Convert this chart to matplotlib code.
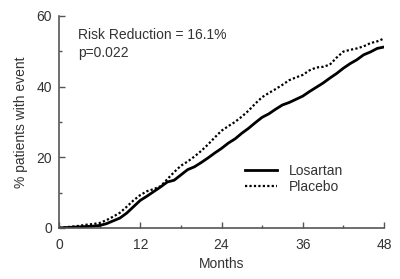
import numpy as np
import matplotlib
matplotlib.use("Agg")
import matplotlib.pyplot as plt
from matplotlib.ticker import MultipleLocator

plt.rcParams["font.family"] = ["Liberation Sans", "DejaVu Sans"]

# months and cumulative % patients with event
months = list(range(0, 49))
losartan = [0, 0.1, 0.2, 0.3, 0.4, 0.5, 0.7, 1.2, 2.0, 2.8,
            4.2, 6.0, 7.8, 9.0, 10.3, 11.6, 13.0, 13.5, 15.0, 16.5,
            17.3, 18.5, 19.8, 21.2, 22.5, 24.0, 25.2, 26.8, 28.2, 29.8,
            31.3, 32.3, 33.6, 34.8, 35.5, 36.4, 37.3, 38.6, 39.8, 41.0,
            42.4, 43.7, 45.2, 46.5, 47.6, 49.0, 49.8, 50.8, 51.2]
placebo = [0, 0.2, 0.4, 0.6, 0.9, 1.1, 1.4, 2.2, 3.2, 4.3,
           6.0, 7.8, 9.3, 10.4, 11.0, 11.8, 13.8, 15.8, 17.6, 18.8,
           20.2, 21.8, 23.6, 25.6, 27.5, 28.8, 30.0, 31.5, 33.2, 35.2,
           37.0, 38.2, 39.3, 40.5, 41.8, 42.6, 43.3, 44.6, 45.4, 45.6,
           46.2, 48.2, 49.9, 50.4, 50.8, 51.4, 52.3, 52.8, 53.6]
x_ticks = [0, 12, 24, 36, 48]
y_ticks = [0, 20, 40, 60]

grey = "#555555"
txt = "#333333"

fig = plt.figure(figsize=(4.0, 2.79), dpi=100)
ax = fig.add_axes([0.1475, 0.183, 0.8125, 0.76])

ax.plot(months, losartan, color="black", lw=2.0, label="Losartan")
ax.plot(months, placebo, color="black", lw=1.6, ls=(0, (1, 1)), label="Placebo")

ax.set_xlim(0, 48)
ax.set_ylim(0, 60)
ax.set_xticks(x_ticks)
ax.set_yticks(y_ticks)
ax.xaxis.set_minor_locator(MultipleLocator(6))
ax.yaxis.set_minor_locator(MultipleLocator(10))
ax.tick_params(which="major", direction="in", length=4, width=1, color=grey,
               labelsize=10, labelcolor=txt)
ax.tick_params(axis="x", which="major", pad=7)
ax.tick_params(axis="y", which="major", pad=5)
ax.tick_params(which="minor", direction="in", length=2, width=1, color=grey)

for s in ["top", "right"]:
    ax.spines[s].set_visible(False)
for s in ["left", "bottom"]:
    ax.spines[s].set_color(grey)
    ax.spines[s].set_linewidth(1.2)

ax.set_xlabel("Months", fontsize=10, color=txt, labelpad=4)
ax.set_ylabel("% patients with event", fontsize=10, color=txt, labelpad=6)

ax.text(2.8, 54.6, "Risk Reduction = 16.1%", fontsize=10, color=txt, va="center")
ax.text(2.8, 49.5, "p=0.022", fontsize=10, color=txt, va="center")

ax.legend(loc="upper left", bbox_to_anchor=(0.535, 0.36), frameon=False,
          fontsize=10, handlelength=2.3, handletextpad=0.8, labelspacing=0.15,
          labelcolor=txt)

fig.savefig("out.png", dpi=100)
